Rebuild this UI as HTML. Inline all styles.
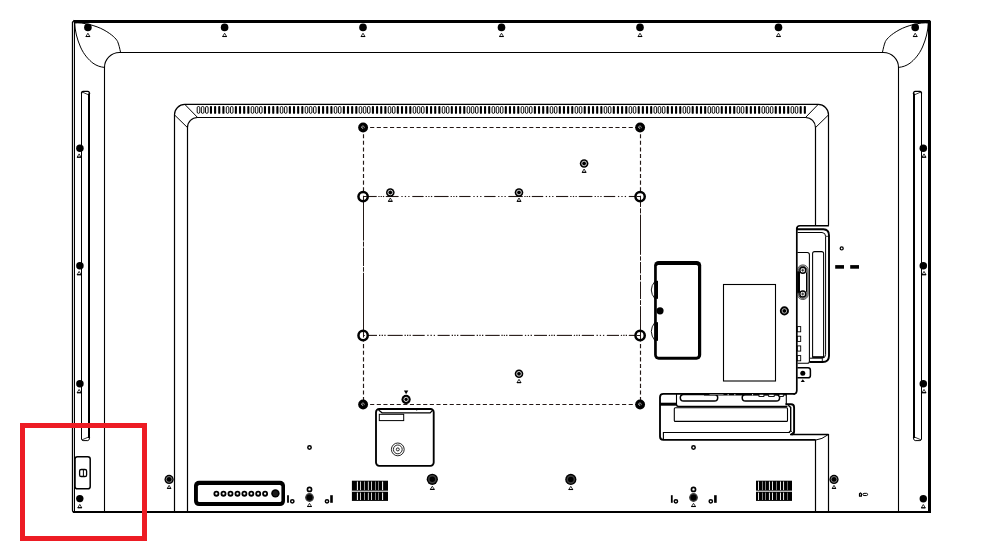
<!DOCTYPE html>
<html><head><meta charset="utf-8"><title>Rear panel</title>
<style>
html,body{margin:0;padding:0;background:#fff;font-family:"Liberation Sans",sans-serif;}
svg{display:block}
</style></head>
<body>
<svg width="990" height="557" viewBox="0 0 990 557" shape-rendering="geometricPrecision">
<rect width="990" height="557" fill="#fff"/>
<line x1="73.8" y1="21.5" x2="931" y2="21.5" stroke="#000" stroke-width="3"/>
<line x1="929.5" y1="20" x2="929.5" y2="512.6" stroke="#000" stroke-width="3"/>
<path d="M74.4,20.2 L72.5,22.2 V510.4 Q72.5,512 74.2,512" fill="none" stroke="#000" stroke-width="1.3"/>
<line x1="74.5" y1="22.5" x2="74.5" y2="511" stroke="#000" stroke-width="1"/>
<line x1="73" y1="512" x2="931" y2="512" stroke="#000" stroke-width="2"/>
<path d="M931.2,19.8 V21.4 L929.6,19.8 Z" fill="#fff"/>
<path d="M104.5,511 V67.5 A15,15 0 0 1 119.5,52.5 H883.5 A15,15 0 0 1 898.5,67.5 V511" fill="none" stroke="#000" stroke-width="1.1"/>
<path d="M74.7,23 C82,22 96,25.5 104,30 C112,34.5 116,38.5 117.6,41.5 C119,45 119.6,48 120.6,52.5" fill="none" stroke="#000" stroke-width="1"/>
<path d="M74.7,23 C75,31 77,39 80.5,47 C84,55 89,60 93,63.2 C97,66 100.5,67 104.5,67.4" fill="none" stroke="#000" stroke-width="1"/>
<g transform="translate(1003,0) scale(-1,1)"><path d="M74.7,23 C82,22 96,25.5 104,30 C112,34.5 116,38.5 117.6,41.5 C119,45 119.6,48 120.6,52.5" fill="none" stroke="#000" stroke-width="1"/><path d="M74.7,23 C75,31 77,39 80.5,47 C84,55 89,60 93,63.2 C97,66 100.5,67 104.5,67.4" fill="none" stroke="#000" stroke-width="1"/></g>
<line x1="81.5" y1="93" x2="81.5" y2="439" stroke="#000" stroke-width="1"/><line x1="89.0" y1="93.5" x2="89.0" y2="438" stroke="#000" stroke-width="2"/><path d="M81.5,93.5 Q81.5,91.3 83.1,91.3 H87.8 Q89.6,91.5 89.6,94" fill="none" stroke="#000" stroke-width="1.3"/><line x1="82.1" y1="92" x2="89.0" y2="95" stroke="#000" stroke-width="0.8"/><path d="M81.5,438.5 Q81.5,440.6 83.1,440.6 H87.8 Q89.6,440.4 89.6,437.5" fill="none" stroke="#000" stroke-width="1"/><line x1="82.1" y1="439.8" x2="89.0" y2="436.8" stroke="#000" stroke-width="0.8"/>
<line x1="921.5" y1="93" x2="921.5" y2="439" stroke="#000" stroke-width="1"/><line x1="914.0" y1="93.5" x2="914.0" y2="438" stroke="#000" stroke-width="2"/><path d="M921.5,93.5 Q921.5,91.3 919.9,91.3 H915.2 Q913.4,91.5 913.4,94" fill="none" stroke="#000" stroke-width="1.3"/><line x1="920.9" y1="92" x2="914.0" y2="95" stroke="#000" stroke-width="0.8"/><path d="M921.5,438.5 Q921.5,440.6 919.9,440.6 H915.2 Q913.4,440.4 913.4,437.5" fill="none" stroke="#000" stroke-width="1"/><line x1="920.9" y1="439.8" x2="914.0" y2="436.8" stroke="#000" stroke-width="0.8"/>
<path d="M174.5,511 V114.8 A10.3,10.3 0 0 1 184.8,104.45 H818.2 A10.3,10.3 0 0 1 828.5,114.8 V225.5" fill="none" stroke="#000" stroke-width="1.2"/>
<path d="M187.5,511 V127.5 A10,10 0 0 1 197.5,117.5 H805.5 A10,10 0 0 1 815.5,127.5 V225.5" fill="none" stroke="#000" stroke-width="1.2"/>
<path d="M185,104.6 L197.5,117.4 M174.6,115 L187.5,127.6 M818,104.6 L805.6,117.4 M828.4,115 L815.5,127.6" fill="none" stroke="#000" stroke-width="1"/>
<g><rect x="197.20" y="106.5" width="2.6" height="6.85" rx="1.3" fill="#fff" stroke="#000" stroke-width="0.95"/><rect x="201.35" y="106.5" width="2.6" height="6.85" rx="1.3" fill="#fff" stroke="#000" stroke-width="0.95"/><rect x="205.51" y="106.5" width="2.6" height="6.85" rx="1.3" fill="#fff" stroke="#000" stroke-width="0.95"/><rect x="209.91" y="106" width="2.1" height="7.8" rx="0.9" fill="#000"/><rect x="214.06" y="106" width="2.1" height="7.8" rx="0.9" fill="#000"/><rect x="218.21" y="106" width="2.1" height="7.8" rx="0.9" fill="#000"/><rect x="222.37" y="106" width="2.1" height="7.8" rx="0.9" fill="#000"/><rect x="226.27" y="106.5" width="2.6" height="6.85" rx="1.3" fill="#fff" stroke="#000" stroke-width="0.95"/><rect x="230.42" y="106.5" width="2.6" height="6.85" rx="1.3" fill="#fff" stroke="#000" stroke-width="0.95"/><rect x="234.83" y="106" width="2.1" height="7.8" rx="0.9" fill="#000"/><rect x="238.98" y="106" width="2.1" height="7.8" rx="0.9" fill="#000"/><rect x="243.13" y="106" width="2.1" height="7.8" rx="0.9" fill="#000"/><rect x="247.29" y="106" width="2.1" height="7.8" rx="0.9" fill="#000"/><rect x="251.19" y="106.5" width="2.6" height="6.85" rx="1.3" fill="#fff" stroke="#000" stroke-width="0.95"/><rect x="255.34" y="106.5" width="2.6" height="6.85" rx="1.3" fill="#fff" stroke="#000" stroke-width="0.95"/><rect x="259.50" y="106.5" width="2.6" height="6.85" rx="1.3" fill="#fff" stroke="#000" stroke-width="0.95"/><rect x="263.90" y="106" width="2.1" height="7.8" rx="0.9" fill="#000"/><rect x="268.05" y="106" width="2.1" height="7.8" rx="0.9" fill="#000"/><rect x="272.20" y="106" width="2.1" height="7.8" rx="0.9" fill="#000"/><rect x="276.36" y="106" width="2.1" height="7.8" rx="0.9" fill="#000"/><rect x="280.26" y="106.5" width="2.6" height="6.85" rx="1.3" fill="#fff" stroke="#000" stroke-width="0.95"/><rect x="284.41" y="106.5" width="2.6" height="6.85" rx="1.3" fill="#fff" stroke="#000" stroke-width="0.95"/><rect x="288.82" y="106" width="2.1" height="7.8" rx="0.9" fill="#000"/><rect x="292.97" y="106" width="2.1" height="7.8" rx="0.9" fill="#000"/><rect x="297.12" y="106" width="2.1" height="7.8" rx="0.9" fill="#000"/><rect x="301.27" y="106" width="2.1" height="7.8" rx="0.9" fill="#000"/><rect x="305.18" y="106.5" width="2.6" height="6.85" rx="1.3" fill="#fff" stroke="#000" stroke-width="0.95"/><rect x="309.33" y="106.5" width="2.6" height="6.85" rx="1.3" fill="#fff" stroke="#000" stroke-width="0.95"/><rect x="313.48" y="106.5" width="2.6" height="6.85" rx="1.3" fill="#fff" stroke="#000" stroke-width="0.95"/><rect x="317.89" y="106" width="2.1" height="7.8" rx="0.9" fill="#000"/><rect x="322.04" y="106" width="2.1" height="7.8" rx="0.9" fill="#000"/><rect x="326.19" y="106" width="2.1" height="7.8" rx="0.9" fill="#000"/><rect x="330.35" y="106" width="2.1" height="7.8" rx="0.9" fill="#000"/><rect x="334.25" y="106.5" width="2.6" height="6.85" rx="1.3" fill="#fff" stroke="#000" stroke-width="0.95"/><rect x="338.40" y="106.5" width="2.6" height="6.85" rx="1.3" fill="#fff" stroke="#000" stroke-width="0.95"/><rect x="342.81" y="106" width="2.1" height="7.8" rx="0.9" fill="#000"/><rect x="346.96" y="106" width="2.1" height="7.8" rx="0.9" fill="#000"/><rect x="351.11" y="106" width="2.1" height="7.8" rx="0.9" fill="#000"/><rect x="355.26" y="106" width="2.1" height="7.8" rx="0.9" fill="#000"/><rect x="359.17" y="106.5" width="2.6" height="6.85" rx="1.3" fill="#fff" stroke="#000" stroke-width="0.95"/><rect x="363.32" y="106.5" width="2.6" height="6.85" rx="1.3" fill="#fff" stroke="#000" stroke-width="0.95"/><rect x="367.47" y="106.5" width="2.6" height="6.85" rx="1.3" fill="#fff" stroke="#000" stroke-width="0.95"/><rect x="371.88" y="106" width="2.1" height="7.8" rx="0.9" fill="#000"/><rect x="376.03" y="106" width="2.1" height="7.8" rx="0.9" fill="#000"/><rect x="380.18" y="106" width="2.1" height="7.8" rx="0.9" fill="#000"/><rect x="384.33" y="106" width="2.1" height="7.8" rx="0.9" fill="#000"/><rect x="388.24" y="106.5" width="2.6" height="6.85" rx="1.3" fill="#fff" stroke="#000" stroke-width="0.95"/><rect x="392.39" y="106.5" width="2.6" height="6.85" rx="1.3" fill="#fff" stroke="#000" stroke-width="0.95"/><rect x="396.79" y="106" width="2.1" height="7.8" rx="0.9" fill="#000"/><rect x="400.95" y="106" width="2.1" height="7.8" rx="0.9" fill="#000"/><rect x="405.10" y="106" width="2.1" height="7.8" rx="0.9" fill="#000"/><rect x="409.25" y="106" width="2.1" height="7.8" rx="0.9" fill="#000"/><rect x="413.16" y="106.5" width="2.6" height="6.85" rx="1.3" fill="#fff" stroke="#000" stroke-width="0.95"/><rect x="417.31" y="106.5" width="2.6" height="6.85" rx="1.3" fill="#fff" stroke="#000" stroke-width="0.95"/><rect x="421.46" y="106.5" width="2.6" height="6.85" rx="1.3" fill="#fff" stroke="#000" stroke-width="0.95"/><rect x="425.86" y="106" width="2.1" height="7.8" rx="0.9" fill="#000"/><rect x="430.02" y="106" width="2.1" height="7.8" rx="0.9" fill="#000"/><rect x="434.17" y="106" width="2.1" height="7.8" rx="0.9" fill="#000"/><rect x="438.32" y="106" width="2.1" height="7.8" rx="0.9" fill="#000"/><rect x="442.23" y="106.5" width="2.6" height="6.85" rx="1.3" fill="#fff" stroke="#000" stroke-width="0.95"/><rect x="446.38" y="106.5" width="2.6" height="6.85" rx="1.3" fill="#fff" stroke="#000" stroke-width="0.95"/><rect x="450.78" y="106" width="2.1" height="7.8" rx="0.9" fill="#000"/><rect x="454.94" y="106" width="2.1" height="7.8" rx="0.9" fill="#000"/><rect x="459.09" y="106" width="2.1" height="7.8" rx="0.9" fill="#000"/><rect x="463.24" y="106" width="2.1" height="7.8" rx="0.9" fill="#000"/><rect x="467.14" y="106.5" width="2.6" height="6.85" rx="1.3" fill="#fff" stroke="#000" stroke-width="0.95"/><rect x="471.30" y="106.5" width="2.6" height="6.85" rx="1.3" fill="#fff" stroke="#000" stroke-width="0.95"/><rect x="475.45" y="106.5" width="2.6" height="6.85" rx="1.3" fill="#fff" stroke="#000" stroke-width="0.95"/><rect x="479.85" y="106" width="2.1" height="7.8" rx="0.9" fill="#000"/><rect x="484.01" y="106" width="2.1" height="7.8" rx="0.9" fill="#000"/><rect x="488.16" y="106" width="2.1" height="7.8" rx="0.9" fill="#000"/><rect x="492.06" y="106.5" width="2.6" height="6.85" rx="1.3" fill="#fff" stroke="#000" stroke-width="0.95"/><rect x="496.22" y="106.5" width="2.6" height="6.85" rx="1.3" fill="#fff" stroke="#000" stroke-width="0.95"/><rect x="500.37" y="106.5" width="2.6" height="6.85" rx="1.3" fill="#fff" stroke="#000" stroke-width="0.95"/><rect x="504.77" y="106" width="2.1" height="7.8" rx="0.9" fill="#000"/><rect x="508.92" y="106" width="2.1" height="7.8" rx="0.9" fill="#000"/><rect x="513.08" y="106" width="2.1" height="7.8" rx="0.9" fill="#000"/><rect x="517.23" y="106" width="2.1" height="7.8" rx="0.9" fill="#000"/><rect x="521.13" y="106.5" width="2.6" height="6.85" rx="1.3" fill="#fff" stroke="#000" stroke-width="0.95"/><rect x="525.29" y="106.5" width="2.6" height="6.85" rx="1.3" fill="#fff" stroke="#000" stroke-width="0.95"/><rect x="529.44" y="106.5" width="2.6" height="6.85" rx="1.3" fill="#fff" stroke="#000" stroke-width="0.95"/><rect x="533.84" y="106" width="2.1" height="7.8" rx="0.9" fill="#000"/><rect x="538.00" y="106" width="2.1" height="7.8" rx="0.9" fill="#000"/><rect x="542.15" y="106" width="2.1" height="7.8" rx="0.9" fill="#000"/><rect x="546.30" y="106" width="2.1" height="7.8" rx="0.9" fill="#000"/><rect x="550.20" y="106.5" width="2.6" height="6.85" rx="1.3" fill="#fff" stroke="#000" stroke-width="0.95"/><rect x="554.36" y="106.5" width="2.6" height="6.85" rx="1.3" fill="#fff" stroke="#000" stroke-width="0.95"/><rect x="558.76" y="106" width="2.1" height="7.8" rx="0.9" fill="#000"/><rect x="562.91" y="106" width="2.1" height="7.8" rx="0.9" fill="#000"/><rect x="567.07" y="106" width="2.1" height="7.8" rx="0.9" fill="#000"/><rect x="571.22" y="106" width="2.1" height="7.8" rx="0.9" fill="#000"/><rect x="575.12" y="106.5" width="2.6" height="6.85" rx="1.3" fill="#fff" stroke="#000" stroke-width="0.95"/><rect x="579.28" y="106.5" width="2.6" height="6.85" rx="1.3" fill="#fff" stroke="#000" stroke-width="0.95"/><rect x="583.68" y="106" width="2.1" height="7.8" rx="0.9" fill="#000"/><rect x="587.83" y="106" width="2.1" height="7.8" rx="0.9" fill="#000"/><rect x="591.99" y="106" width="2.1" height="7.8" rx="0.9" fill="#000"/><rect x="596.14" y="106" width="2.1" height="7.8" rx="0.9" fill="#000"/><rect x="600.29" y="106" width="2.1" height="7.8" rx="0.9" fill="#000"/><rect x="604.19" y="106.5" width="2.6" height="6.85" rx="1.3" fill="#fff" stroke="#000" stroke-width="0.95"/><rect x="608.35" y="106.5" width="2.6" height="6.85" rx="1.3" fill="#fff" stroke="#000" stroke-width="0.95"/><rect x="612.75" y="106" width="2.1" height="7.8" rx="0.9" fill="#000"/><rect x="616.90" y="106" width="2.1" height="7.8" rx="0.9" fill="#000"/><rect x="621.06" y="106" width="2.1" height="7.8" rx="0.9" fill="#000"/><rect x="625.21" y="106" width="2.1" height="7.8" rx="0.9" fill="#000"/><rect x="629.11" y="106.5" width="2.6" height="6.85" rx="1.3" fill="#fff" stroke="#000" stroke-width="0.95"/><rect x="633.26" y="106.5" width="2.6" height="6.85" rx="1.3" fill="#fff" stroke="#000" stroke-width="0.95"/><rect x="637.67" y="106" width="2.1" height="7.8" rx="0.9" fill="#000"/><rect x="641.82" y="106" width="2.1" height="7.8" rx="0.9" fill="#000"/><rect x="645.97" y="106" width="2.1" height="7.8" rx="0.9" fill="#000"/><rect x="650.13" y="106" width="2.1" height="7.8" rx="0.9" fill="#000"/><rect x="654.03" y="106.5" width="2.6" height="6.85" rx="1.3" fill="#fff" stroke="#000" stroke-width="0.95"/><rect x="658.18" y="106.5" width="2.6" height="6.85" rx="1.3" fill="#fff" stroke="#000" stroke-width="0.95"/><rect x="662.34" y="106.5" width="2.6" height="6.85" rx="1.3" fill="#fff" stroke="#000" stroke-width="0.95"/><rect x="666.74" y="106" width="2.1" height="7.8" rx="0.9" fill="#000"/><rect x="670.89" y="106" width="2.1" height="7.8" rx="0.9" fill="#000"/><rect x="675.05" y="106" width="2.1" height="7.8" rx="0.9" fill="#000"/><rect x="679.20" y="106" width="2.1" height="7.8" rx="0.9" fill="#000"/><rect x="683.10" y="106.5" width="2.6" height="6.85" rx="1.3" fill="#fff" stroke="#000" stroke-width="0.95"/><rect x="687.25" y="106.5" width="2.6" height="6.85" rx="1.3" fill="#fff" stroke="#000" stroke-width="0.95"/><rect x="691.66" y="106" width="2.1" height="7.8" rx="0.9" fill="#000"/><rect x="695.81" y="106" width="2.1" height="7.8" rx="0.9" fill="#000"/><rect x="699.96" y="106" width="2.1" height="7.8" rx="0.9" fill="#000"/><rect x="704.12" y="106" width="2.1" height="7.8" rx="0.9" fill="#000"/><rect x="708.02" y="106.5" width="2.6" height="6.85" rx="1.3" fill="#fff" stroke="#000" stroke-width="0.95"/><rect x="712.17" y="106.5" width="2.6" height="6.85" rx="1.3" fill="#fff" stroke="#000" stroke-width="0.95"/><rect x="716.33" y="106.5" width="2.6" height="6.85" rx="1.3" fill="#fff" stroke="#000" stroke-width="0.95"/><rect x="720.73" y="106" width="2.1" height="7.8" rx="0.9" fill="#000"/><rect x="724.88" y="106" width="2.1" height="7.8" rx="0.9" fill="#000"/><rect x="729.03" y="106" width="2.1" height="7.8" rx="0.9" fill="#000"/><rect x="733.19" y="106" width="2.1" height="7.8" rx="0.9" fill="#000"/><rect x="737.09" y="106.5" width="2.6" height="6.85" rx="1.3" fill="#fff" stroke="#000" stroke-width="0.95"/><rect x="741.24" y="106.5" width="2.6" height="6.85" rx="1.3" fill="#fff" stroke="#000" stroke-width="0.95"/><rect x="745.65" y="106" width="2.1" height="7.8" rx="0.9" fill="#000"/><rect x="749.80" y="106" width="2.1" height="7.8" rx="0.9" fill="#000"/><rect x="753.95" y="106" width="2.1" height="7.8" rx="0.9" fill="#000"/><rect x="758.11" y="106" width="2.1" height="7.8" rx="0.9" fill="#000"/><rect x="762.01" y="106.5" width="2.6" height="6.85" rx="1.3" fill="#fff" stroke="#000" stroke-width="0.95"/><rect x="766.16" y="106.5" width="2.6" height="6.85" rx="1.3" fill="#fff" stroke="#000" stroke-width="0.95"/><rect x="770.31" y="106.5" width="2.6" height="6.85" rx="1.3" fill="#fff" stroke="#000" stroke-width="0.95"/><rect x="774.72" y="106" width="2.1" height="7.8" rx="0.9" fill="#000"/><rect x="778.87" y="106" width="2.1" height="7.8" rx="0.9" fill="#000"/><rect x="783.02" y="106" width="2.1" height="7.8" rx="0.9" fill="#000"/><rect x="787.18" y="106" width="2.1" height="7.8" rx="0.9" fill="#000"/><rect x="791.08" y="106.5" width="2.6" height="6.85" rx="1.3" fill="#fff" stroke="#000" stroke-width="0.95"/><rect x="795.23" y="106.5" width="2.6" height="6.85" rx="1.3" fill="#fff" stroke="#000" stroke-width="0.95"/><rect x="799.63" y="106" width="2.1" height="7.8" rx="0.9" fill="#000"/><rect x="803.79" y="106" width="2.1" height="7.8" rx="0.9" fill="#000"/></g>
<g fill="none" stroke="#231815" stroke-width="1.15">
<line x1="363.5" y1="127.5" x2="640.5" y2="127.5" stroke-dasharray="4.1 2.53"/>
<line x1="363.5" y1="404.5" x2="640.5" y2="404.5" stroke-dasharray="4.1 2.53"/>
<line x1="363.5" y1="127.5" x2="363.5" y2="191.5" stroke-dasharray="4.1 2.53"/>
<line x1="640.5" y1="127.5" x2="640.5" y2="191.5" stroke-dasharray="4.1 2.53"/>
<line x1="363.5" y1="340.4" x2="363.5" y2="404.5" stroke-dasharray="4.1 2.53" stroke-dashoffset="3"/>
<line x1="640.5" y1="340.4" x2="640.5" y2="404.5" stroke-dasharray="4.1 2.53" stroke-dashoffset="3"/>
<line x1="363.5" y1="196.5" x2="376.7" y2="196.5" stroke-width="1.1"/><line x1="378.33" y1="196.5" x2="379.62" y2="196.5" stroke-width="1.1"/><line x1="380.60" y1="196.5" x2="381.90" y2="196.5" stroke-width="1.1"/><line x1="382.88" y1="196.5" x2="384.17" y2="196.5" stroke-width="1.1"/><line x1="385.8" y1="196.5" x2="398.6" y2="196.5" stroke-width="1.1"/><line x1="401.38" y1="196.5" x2="402.68" y2="196.5" stroke-width="1.1"/><line x1="404.80" y1="196.5" x2="406.10" y2="196.5" stroke-width="1.1"/><line x1="408.23" y1="196.5" x2="409.52" y2="196.5" stroke-width="1.1"/><line x1="412.3" y1="196.5" x2="423.6" y2="196.5" stroke-width="1.1"/><line x1="425.60" y1="196.5" x2="426.90" y2="196.5" stroke-width="1.1"/><line x1="428.25" y1="196.5" x2="429.55" y2="196.5" stroke-width="1.1"/><line x1="430.90" y1="196.5" x2="432.20" y2="196.5" stroke-width="1.1"/><line x1="434.2" y1="196.5" x2="448.6" y2="196.5" stroke-width="1.1"/><line x1="450.60" y1="196.5" x2="451.90" y2="196.5" stroke-width="1.1"/><line x1="453.25" y1="196.5" x2="454.55" y2="196.5" stroke-width="1.1"/><line x1="455.90" y1="196.5" x2="457.20" y2="196.5" stroke-width="1.1"/><line x1="459.2" y1="196.5" x2="470.6" y2="196.5" stroke-width="1.1"/><line x1="473.35" y1="196.5" x2="474.65" y2="196.5" stroke-width="1.1"/><line x1="476.75" y1="196.5" x2="478.05" y2="196.5" stroke-width="1.1"/><line x1="480.15" y1="196.5" x2="481.45" y2="196.5" stroke-width="1.1"/><line x1="484.2" y1="196.5" x2="495.6" y2="196.5" stroke-width="1.1"/><line x1="498.13" y1="196.5" x2="499.43" y2="196.5" stroke-width="1.1"/><line x1="501.30" y1="196.5" x2="502.60" y2="196.5" stroke-width="1.1"/><line x1="504.48" y1="196.5" x2="505.77" y2="196.5" stroke-width="1.1"/><line x1="508.3" y1="196.5" x2="522.7" y2="196.5" stroke-width="1.1"/><line x1="524.33" y1="196.5" x2="525.62" y2="196.5" stroke-width="1.1"/><line x1="526.60" y1="196.5" x2="527.90" y2="196.5" stroke-width="1.1"/><line x1="528.88" y1="196.5" x2="530.17" y2="196.5" stroke-width="1.1"/><line x1="531.8" y1="196.5" x2="543.2" y2="196.5" stroke-width="1.1"/><line x1="545.75" y1="196.5" x2="547.05" y2="196.5" stroke-width="1.1"/><line x1="548.95" y1="196.5" x2="550.25" y2="196.5" stroke-width="1.1"/><line x1="552.15" y1="196.5" x2="553.45" y2="196.5" stroke-width="1.1"/><line x1="556" y1="196.5" x2="568.2" y2="196.5" stroke-width="1.1"/><line x1="570.20" y1="196.5" x2="571.50" y2="196.5" stroke-width="1.1"/><line x1="572.85" y1="196.5" x2="574.15" y2="196.5" stroke-width="1.1"/><line x1="575.50" y1="196.5" x2="576.80" y2="196.5" stroke-width="1.1"/><line x1="578.8" y1="196.5" x2="592.4" y2="196.5" stroke-width="1.1"/><line x1="594.60" y1="196.5" x2="595.90" y2="196.5" stroke-width="1.1"/><line x1="597.45" y1="196.5" x2="598.75" y2="196.5" stroke-width="1.1"/><line x1="600.30" y1="196.5" x2="601.60" y2="196.5" stroke-width="1.1"/><line x1="603.8" y1="196.5" x2="615.2" y2="196.5" stroke-width="1.1"/><line x1="617.95" y1="196.5" x2="619.25" y2="196.5" stroke-width="1.1"/><line x1="621.35" y1="196.5" x2="622.65" y2="196.5" stroke-width="1.1"/><line x1="624.75" y1="196.5" x2="626.05" y2="196.5" stroke-width="1.1"/><line x1="628.8" y1="196.5" x2="640.5" y2="196.5" stroke-width="1.1"/>
<line x1="363.5" y1="335.4" x2="377" y2="335.4" stroke-width="1.1"/><line x1="379.00" y1="335.4" x2="380.30" y2="335.4" stroke-width="1.1"/><line x1="381.65" y1="335.4" x2="382.95" y2="335.4" stroke-width="1.1"/><line x1="384.30" y1="335.4" x2="385.60" y2="335.4" stroke-width="1.1"/><line x1="387.6" y1="335.4" x2="402.7" y2="335.4" stroke-width="1.1"/><line x1="404.53" y1="335.4" x2="405.82" y2="335.4" stroke-width="1.1"/><line x1="407.00" y1="335.4" x2="408.30" y2="335.4" stroke-width="1.1"/><line x1="409.48" y1="335.4" x2="410.77" y2="335.4" stroke-width="1.1"/><line x1="412.6" y1="335.4" x2="424.7" y2="335.4" stroke-width="1.1"/><line x1="427.28" y1="335.4" x2="428.57" y2="335.4" stroke-width="1.1"/><line x1="430.50" y1="335.4" x2="431.80" y2="335.4" stroke-width="1.1"/><line x1="433.73" y1="335.4" x2="435.02" y2="335.4" stroke-width="1.1"/><line x1="437.6" y1="335.4" x2="449.7" y2="335.4" stroke-width="1.1"/><line x1="451.70" y1="335.4" x2="453.00" y2="335.4" stroke-width="1.1"/><line x1="454.35" y1="335.4" x2="455.65" y2="335.4" stroke-width="1.1"/><line x1="457.00" y1="335.4" x2="458.30" y2="335.4" stroke-width="1.1"/><line x1="460.3" y1="335.4" x2="474.7" y2="335.4" stroke-width="1.1"/><line x1="476.70" y1="335.4" x2="478.00" y2="335.4" stroke-width="1.1"/><line x1="479.35" y1="335.4" x2="480.65" y2="335.4" stroke-width="1.1"/><line x1="482.00" y1="335.4" x2="483.30" y2="335.4" stroke-width="1.1"/><line x1="485.3" y1="335.4" x2="499.7" y2="335.4" stroke-width="1.1"/><line x1="501.40" y1="335.4" x2="502.70" y2="335.4" stroke-width="1.1"/><line x1="503.75" y1="335.4" x2="505.05" y2="335.4" stroke-width="1.1"/><line x1="506.10" y1="335.4" x2="507.40" y2="335.4" stroke-width="1.1"/><line x1="509.1" y1="335.4" x2="522.7" y2="335.4" stroke-width="1.1"/><line x1="524.90" y1="335.4" x2="526.20" y2="335.4" stroke-width="1.1"/><line x1="527.75" y1="335.4" x2="529.05" y2="335.4" stroke-width="1.1"/><line x1="530.60" y1="335.4" x2="531.90" y2="335.4" stroke-width="1.1"/><line x1="534.1" y1="335.4" x2="547" y2="335.4" stroke-width="1.1"/><line x1="548.80" y1="335.4" x2="550.10" y2="335.4" stroke-width="1.1"/><line x1="551.25" y1="335.4" x2="552.55" y2="335.4" stroke-width="1.1"/><line x1="553.70" y1="335.4" x2="555.00" y2="335.4" stroke-width="1.1"/><line x1="556.8" y1="335.4" x2="572" y2="335.4" stroke-width="1.1"/><line x1="573.80" y1="335.4" x2="575.10" y2="335.4" stroke-width="1.1"/><line x1="576.25" y1="335.4" x2="577.55" y2="335.4" stroke-width="1.1"/><line x1="578.70" y1="335.4" x2="580.00" y2="335.4" stroke-width="1.1"/><line x1="581.8" y1="335.4" x2="594" y2="335.4" stroke-width="1.1"/><line x1="596.55" y1="335.4" x2="597.85" y2="335.4" stroke-width="1.1"/><line x1="599.75" y1="335.4" x2="601.05" y2="335.4" stroke-width="1.1"/><line x1="602.95" y1="335.4" x2="604.25" y2="335.4" stroke-width="1.1"/><line x1="606.8" y1="335.4" x2="619" y2="335.4" stroke-width="1.1"/><line x1="620.80" y1="335.4" x2="622.10" y2="335.4" stroke-width="1.1"/><line x1="623.25" y1="335.4" x2="624.55" y2="335.4" stroke-width="1.1"/><line x1="625.70" y1="335.4" x2="627.00" y2="335.4" stroke-width="1.1"/><line x1="628.8" y1="335.4" x2="640.5" y2="335.4" stroke-width="1.1"/>
<line x1="363.5" y1="196.5" x2="363.5" y2="240.6" stroke-width="1.05"/>
<line x1="363.5" y1="241.6" x2="363.5" y2="246.6" stroke-width="1.05"/>
<line x1="363.5" y1="247.6" x2="363.5" y2="266.1" stroke-width="1.05"/>
<line x1="363.5" y1="267.1" x2="363.5" y2="271.7" stroke-width="1.05"/>
<line x1="363.5" y1="272.8" x2="363.5" y2="335.4" stroke-width="1.05"/>
<line x1="640.5" y1="196.5" x2="640.5" y2="207" stroke-width="1.05"/>
<line x1="640.5" y1="208.3" x2="640.5" y2="213.4" stroke-width="1.05"/>
<line x1="640.5" y1="214.6" x2="640.5" y2="254.8" stroke-width="1.05"/>
<line x1="640.5" y1="256.3" x2="640.5" y2="260.6" stroke-width="1.05"/>
<line x1="640.5" y1="262" x2="640.5" y2="273.4" stroke-width="1.05"/>
<line x1="640.5" y1="274.8" x2="640.5" y2="280.2" stroke-width="1.05"/>
<line x1="640.5" y1="281.6" x2="640.5" y2="299" stroke-width="1.05"/>
<line x1="640.5" y1="300.2" x2="640.5" y2="305" stroke-width="1.05"/>
<line x1="640.5" y1="306.2" x2="640.5" y2="335.4" stroke-width="1.05"/>
</g>
<circle cx="363.1" cy="127.5" r="4.95" fill="#000"/>
<path d="M361.6,128.0 a1.4,1.4 0 1 1 2.3,0.3 M362.5,127.4 v1.5" fill="none" stroke="#c8c8c8" stroke-width="0.7"/>
<circle cx="640.1" cy="127.5" r="4.95" fill="#000"/>
<path d="M638.6,128.0 a1.4,1.4 0 1 1 2.3,0.3 M639.5,127.4 v1.5" fill="none" stroke="#c8c8c8" stroke-width="0.7"/>
<circle cx="363.1" cy="404.5" r="4.95" fill="#000"/>
<path d="M361.6,405.0 a1.4,1.4 0 1 1 2.3,0.3 M362.5,404.4 v1.5" fill="none" stroke="#c8c8c8" stroke-width="0.7"/>
<circle cx="640.1" cy="404.5" r="4.95" fill="#000"/>
<path d="M638.6,405.0 a1.4,1.4 0 1 1 2.3,0.3 M639.5,404.4 v1.5" fill="none" stroke="#c8c8c8" stroke-width="0.7"/>
<circle cx="363.1" cy="196.6" r="4.65" fill="#fff" stroke="#000" stroke-width="2.5"/>
<circle cx="640.1" cy="196.6" r="4.65" fill="#fff" stroke="#000" stroke-width="2.5"/>
<circle cx="363.1" cy="335.5" r="4.65" fill="#fff" stroke="#000" stroke-width="2.5"/>
<circle cx="640.1" cy="335.5" r="4.65" fill="#fff" stroke="#000" stroke-width="2.5"/>
<g stroke="#231815" stroke-width="1.05" fill="none">
<path d="M363.5,195.7 V200.1 M363.5,196.5 H366.9"/>
<path d="M640.5,195.7 V200.1 M640.5,196.5 H636.7"/>
<path d="M363.5,331.9 V337.59999999999997 M363.5,335.4 H364.8"/>
<path d="M640.5,331.9 V338.9 M640.5,335.4 H636.7"/>
</g>
<circle cx="390.3" cy="192.5" r="4.3" fill="#000"/><circle cx="390.3" cy="192.5" r="2.35" fill="none" stroke="#e8e8e8" stroke-width="0.9"/><path d="M390.3,198.0 L392.25,201.3 H388.35 Z" fill="#fff" stroke="#000" stroke-width="0.8" stroke-linejoin="miter"/><line x1="388.15000000000003" y1="201.3" x2="392.45" y2="201.3" stroke="#000" stroke-width="1.1"/>
<circle cx="519" cy="192.5" r="4.3" fill="#000"/><circle cx="519" cy="192.5" r="2.35" fill="none" stroke="#e8e8e8" stroke-width="0.9"/><path d="M519,198.0 L520.95,201.3 H517.05 Z" fill="#fff" stroke="#000" stroke-width="0.8" stroke-linejoin="miter"/><line x1="516.8499999999999" y1="201.3" x2="521.1500000000001" y2="201.3" stroke="#000" stroke-width="1.1"/>
<circle cx="584.1" cy="163.5" r="4.3" fill="#000"/><circle cx="584.1" cy="163.5" r="2.35" fill="none" stroke="#e8e8e8" stroke-width="0.9"/><path d="M584.1,169.0 L586.0500000000001,172.3 H582.15 Z" fill="#fff" stroke="#000" stroke-width="0.8" stroke-linejoin="miter"/><line x1="581.9499999999999" y1="172.3" x2="586.2500000000001" y2="172.3" stroke="#000" stroke-width="1.1"/>
<circle cx="519" cy="373.8" r="4.3" fill="#000"/><circle cx="519" cy="373.8" r="2.35" fill="none" stroke="#e8e8e8" stroke-width="0.9"/><path d="M519,379.3 L520.95,382.6 H517.05 Z" fill="#fff" stroke="#000" stroke-width="0.8" stroke-linejoin="miter"/><line x1="516.8499999999999" y1="382.6" x2="521.1500000000001" y2="382.6" stroke="#000" stroke-width="1.1"/>
<circle cx="406.1" cy="399.4" r="4.6" fill="#000"/><circle cx="406.1" cy="399.4" r="2.15" fill="none" stroke="#e8e8e8" stroke-width="0.95"/>
<path d="M403.9,390.6 H408.3 L406.1,394.2 Z" fill="#000"/>
<rect x="376" y="409" width="57.7" height="56.8" rx="3.2" fill="#fff" stroke="#000" stroke-width="1.85"/>
<path d="M378.6,410 L382,412.8 H430.2 L432.8,410" fill="none" stroke="#000" stroke-width="1.15"/>
<path d="M415.8,409.6 h2 l-1,1.2 Z" fill="#000"/>
<rect x="379.3" y="414.3" width="24.4" height="6.3" fill="none" stroke="#000" stroke-width="1"/>
<circle cx="397.8" cy="449.4" r="6.4" fill="none" stroke="#000" stroke-width="0.85"/><circle cx="397.8" cy="449.4" r="4.4" fill="none" stroke="#000" stroke-width="0.85"/><circle cx="397.8" cy="449.4" r="1.5" fill="none" stroke="#000" stroke-width="0.85"/>
<rect x="654.1" y="260.9" width="47.1" height="98.8" rx="4.6" fill="#000"/><rect x="656.8" y="264.9" width="41.2" height="91.8" rx="1.6" fill="#fff"/>
<path d="M655,281.2 Q647.6,290 655,298.8 M655,322.2 Q647.6,331.4 655,340.8" fill="none" stroke="#000" stroke-width="0.9"/>
<rect x="655" y="280.8" width="3" height="18" fill="#000"/><rect x="655" y="322.2" width="3" height="18.6" fill="#000"/>
<circle cx="660" cy="310.8" r="3.6" fill="#000"/>
<rect x="723.5" y="284.5" width="52" height="96.5" fill="none" stroke="#000" stroke-width="1.1"/>
<circle cx="784.4" cy="310.9" r="4.55" fill="#000"/><circle cx="784.4" cy="310.9" r="2.3" fill="none" stroke="#e8e8e8" stroke-width="0.75"/>
<path d="M828.9,225.8 H800 Q796.8,225.8 796.8,229" fill="none" stroke="#000" stroke-width="1.6"/>
<path d="M796.8,227.5 V390.4 Q796.8,393.8 793.4,393.8" fill="none" stroke="#000" stroke-width="1.7"/>
<path d="M795,393.8 H663.4 Q660,393.8 660,397.2 V436.4 Q660,439.8 663.4,439.8 H815.8" fill="none" stroke="#000" stroke-width="1.85"/>
<path d="M796.8,229.3 H823.4 Q829,229.6 829,235.2 V355.8 Q829,362 822.8,362 H809.5" fill="none" stroke="#000" stroke-width="1.9"/>
<path d="M797.6,232.5 H822 Q825.6,232.7 825.6,236.3 V354.6 Q825.4,358.2 822,358.2 H810" fill="none" stroke="#000" stroke-width="1"/>
<line x1="825.8" y1="236.3" x2="829" y2="236.3" stroke="#000" stroke-width="0.8"/>
<line x1="822.3" y1="358.2" x2="822.3" y2="362" stroke="#000" stroke-width="0.9"/>
<path d="M797.4,252.5 H807.3 Q809.4,252.5 809.4,254.7 V361.2 Q809.4,363.3 807.2,363.3 H797.6" fill="none" stroke="#000" stroke-width="1.05"/>
<path d="M812.6,357.2 V253.6 Q812.6,251.6 814.6,251.6 H821.6 Q823.6,251.6 823.6,253.6 V357.2 Z" fill="none" stroke="#000" stroke-width="1.05"/>
<line x1="812.6" y1="357" x2="823.6" y2="357" stroke="#000" stroke-width="1.5"/>
<rect x="797.5" y="264.9" width="10.7" height="34.6" rx="5.3" fill="#fff" stroke="#000" stroke-width="0.7"/>
<rect x="798.6" y="266.1" width="8.4" height="32.2" rx="4.2" fill="#fff" stroke="#000" stroke-width="0.8"/>
<line x1="798.6" y1="271.5" x2="798.6" y2="292.8" stroke="#000" stroke-width="2.8"/>
<line x1="806.5" y1="272.5" x2="806.5" y2="291.8" stroke="#000" stroke-width="1"/>
<circle cx="802.8" cy="270.2" r="3" fill="#fff" stroke="#000" stroke-width="1.4"/><path d="M801.2,270.2 h3.2 M802.8,268.59999999999997 v3.2" stroke="#000" stroke-width="0.8"/>
<circle cx="802.8" cy="294" r="3" fill="#fff" stroke="#000" stroke-width="1.4"/><path d="M801.2,294 h3.2 M802.8,292.4 v3.2" stroke="#000" stroke-width="0.8"/>
<rect x="797.4" y="326.6" width="3.3" height="5.2" fill="#fff" stroke="#000" stroke-width="0.9"/>
<rect x="797.4" y="336.2" width="3.3" height="5.2" fill="#fff" stroke="#000" stroke-width="0.9"/>
<rect x="797.4" y="345.9" width="3.3" height="5.2" fill="#fff" stroke="#000" stroke-width="0.9"/>
<rect x="797.4" y="355.6" width="3.3" height="5.2" fill="#fff" stroke="#000" stroke-width="0.9"/>
<path d="M797.4,367.8 H808 Q810.4,367.8 810.4,370.2 V375.4 Q810.4,377.8 808,377.8 H797.4" fill="none" stroke="#000" stroke-width="1.5"/>
<circle cx="802.8" cy="373.3" r="2.5" fill="#000"/>
<path d="M802.8,379.2 L804.9,382 H800.7 Z" fill="#000"/>
<circle cx="841.7" cy="248.4" r="1.5" fill="#fff" stroke="#000" stroke-width="1.3"/>
<rect x="835.2" y="265.1" width="8.8" height="3.6" fill="#000"/><rect x="850.2" y="265.1" width="8.8" height="3.6" fill="#000"/>
<line x1="676.5" y1="393.8" x2="676.5" y2="405" stroke="#000" stroke-width="1.1"/>
<line x1="660" y1="404.2" x2="677" y2="404.2" stroke="#000" stroke-width="3"/>
<path d="M676.5,404.6 Q676.8,406.5 678.6,406.5 H787.4" fill="none" stroke="#000" stroke-width="1.5"/>
<line x1="786.3" y1="393.8" x2="786.3" y2="404" stroke="#000" stroke-width="1.1"/>
<rect x="680.3" y="394.4" width="37.4" height="6.7" rx="3.3" fill="none" stroke="#000" stroke-width="1.5"/>
<rect x="742.2" y="394.4" width="37.4" height="6.7" rx="3.3" fill="none" stroke="#000" stroke-width="1.5"/>
<rect x="704" y="393" width="82.5" height="2.5" fill="#000"/>
<rect x="709.5" y="394.4" width="14" height="0.6" fill="#bbb"/>
<rect x="727.6" y="394.2" width="1.1" height="1.1" fill="#fff"/>
<rect x="734.3" y="394.2" width="1.1" height="1.1" fill="#fff"/>
<rect x="752" y="394.2" width="1.1" height="1.1" fill="#fff"/>
<rect x="759" y="394.2" width="4.9" height="2.3" fill="#fff" stroke="#000" stroke-width="0.9"/>
<rect x="768.7" y="394.2" width="5.5" height="2.3" fill="#fff" stroke="#000" stroke-width="0.9"/>
<rect x="779" y="394.2" width="4.3" height="2.3" fill="#fff" stroke="#000" stroke-width="0.9"/>
<rect x="674.3" y="407.8" width="113.2" height="13.6" rx="1" fill="none" stroke="#000" stroke-width="1.1"/>
<path d="M785.4,404.3 H791 Q794.1,404.3 794.1,407.4 V431.4 Q794.1,434.4 791.2,434.4" fill="none" stroke="#000" stroke-width="1.9"/>
<path d="M788.2,405.2 L790.7,407.4 V430.8 L788.8,432.8" fill="none" stroke="#000" stroke-width="1.4"/>
<path d="M790.7,430.6 L792.6,432.6 L790.9,434.2" fill="none" stroke="#000" stroke-width="0.8"/>
<path d="M663.4,439.4 V432.5 H789.6" fill="none" stroke="#000" stroke-width="1.1"/>
<line x1="790" y1="434.5" x2="828.6" y2="434.5" stroke="#000" stroke-width="1.4"/>
<path d="M815.8,440 Q822,439.4 827.9,434.8" fill="none" stroke="#000" stroke-width="1"/>
<line x1="815.5" y1="440" x2="815.5" y2="511" stroke="#000" stroke-width="1.2"/>
<line x1="828.5" y1="434" x2="828.5" y2="511" stroke="#000" stroke-width="1.2"/>
<circle cx="693.5" cy="447.5" r="1.7" fill="#fff" stroke="#000" stroke-width="1.5"/>
<circle cx="309.5" cy="447.5" r="1.7" fill="#fff" stroke="#000" stroke-width="1.5"/>
<rect x="194" y="480.85" width="91" height="25.25" rx="5" fill="#000"/><rect x="197.9" y="485" width="83.5" height="17.1" rx="1.6" fill="#fff"/>
<circle cx="216.4" cy="493.7" r="2.05" fill="#fff" stroke="#000" stroke-width="1.8"/>
<circle cx="223.5" cy="493.7" r="2.05" fill="#fff" stroke="#000" stroke-width="1.8"/>
<circle cx="230.5" cy="493.7" r="2.05" fill="#fff" stroke="#000" stroke-width="1.8"/>
<circle cx="237.5" cy="493.7" r="2.05" fill="#fff" stroke="#000" stroke-width="1.8"/>
<circle cx="244.4" cy="493.7" r="2.05" fill="#fff" stroke="#000" stroke-width="1.8"/>
<circle cx="251.3" cy="493.7" r="2.05" fill="#fff" stroke="#000" stroke-width="1.8"/>
<circle cx="258.2" cy="493.7" r="2.05" fill="#fff" stroke="#000" stroke-width="1.8"/>
<circle cx="265.1" cy="493.7" r="2.05" fill="#fff" stroke="#000" stroke-width="1.8"/>
<circle cx="275.4" cy="493.4" r="4.2" fill="#000"/><circle cx="275.4" cy="493.4" r="2.6" fill="#1c1c1c"/>
<line x1="288" y1="495.2" x2="288" y2="502.8" stroke="#000" stroke-width="1.8"/><circle cx="292.3" cy="501.3" r="1.65" fill="#fff" stroke="#000" stroke-width="1.5"/>
<line x1="331.5" y1="495.2" x2="331.5" y2="502.8" stroke="#000" stroke-width="2.6"/><circle cx="327" cy="501.3" r="1.65" fill="#fff" stroke="#000" stroke-width="1.5"/>
<line x1="671.8" y1="495.2" x2="671.8" y2="502.8" stroke="#000" stroke-width="1.8"/><circle cx="675.9" cy="501.3" r="1.65" fill="#fff" stroke="#000" stroke-width="1.5"/>
<line x1="715.4" y1="495.2" x2="715.4" y2="502.8" stroke="#000" stroke-width="2.6"/><circle cx="710.8" cy="501.3" r="1.65" fill="#fff" stroke="#000" stroke-width="1.5"/>
<circle cx="309.5" cy="489.4" r="2.05" fill="#fff" stroke="#000" stroke-width="1.7"/><circle cx="309.5" cy="497.5" r="4.4" fill="#3c3c3c"/><circle cx="309.5" cy="497.5" r="3" fill="#000"/><path d="M309.5,503.3 L311.5,506.5 H307.5 Z" fill="#fff" stroke="#000" stroke-width="0.8" stroke-linejoin="miter"/><line x1="307.3" y1="506.5" x2="311.7" y2="506.5" stroke="#000" stroke-width="1.1"/>
<circle cx="693.5" cy="489.4" r="2.05" fill="#fff" stroke="#000" stroke-width="1.7"/><circle cx="693.5" cy="497.5" r="4.4" fill="#3c3c3c"/><circle cx="693.5" cy="497.5" r="3" fill="#000"/><path d="M693.5,503.3 L695.5,506.5 H691.5 Z" fill="#fff" stroke="#000" stroke-width="0.8" stroke-linejoin="miter"/><line x1="691.3" y1="506.5" x2="695.7" y2="506.5" stroke="#000" stroke-width="1.1"/>
<circle cx="432.3" cy="479.3" r="5.6" fill="#000"/><circle cx="432.3" cy="479.3" r="3.5" fill="none" stroke="#3c3c3c" stroke-width="1.5"/><path d="M432.3,486.2 L434.3,489.4 H430.3 Z" fill="#fff" stroke="#000" stroke-width="0.8" stroke-linejoin="miter"/><line x1="430.1" y1="489.4" x2="434.5" y2="489.4" stroke="#000" stroke-width="1.1"/>
<circle cx="570.8" cy="479.4" r="5.6" fill="#000"/><circle cx="570.8" cy="479.4" r="3.5" fill="none" stroke="#3c3c3c" stroke-width="1.5"/><path d="M570.8,486.29999999999995 L572.8,489.49999999999994 H568.8 Z" fill="#fff" stroke="#000" stroke-width="0.8" stroke-linejoin="miter"/><line x1="568.5999999999999" y1="489.49999999999994" x2="573.0" y2="489.49999999999994" stroke="#000" stroke-width="1.1"/>
<circle cx="169.1" cy="479.4" r="4.6" fill="#000"/><circle cx="169.1" cy="479.4" r="2.9" fill="none" stroke="#b0b0b0" stroke-width="0.7"/><path d="M169.1,485.29999999999995 L170.9,488.4 H167.29999999999998 Z" fill="#fff" stroke="#000" stroke-width="0.8" stroke-linejoin="miter"/><line x1="167.1" y1="488.4" x2="171.1" y2="488.4" stroke="#000" stroke-width="1.1"/>
<circle cx="834" cy="479.4" r="4.6" fill="#000"/><circle cx="834" cy="479.4" r="2.9" fill="none" stroke="#b0b0b0" stroke-width="0.7"/><path d="M834,485.29999999999995 L835.8,488.4 H832.2 Z" fill="#fff" stroke="#000" stroke-width="0.8" stroke-linejoin="miter"/><line x1="832.0" y1="488.4" x2="836.0" y2="488.4" stroke="#000" stroke-width="1.1"/>
<rect x="351.9" y="480.7" width="36.10000000000002" height="20.2" fill="#000"/><rect x="351.9" y="490.6" width="36.10000000000002" height="1.3" fill="#d0d0d0"/><rect x="356.9" y="481.5" width="1" height="8.6" fill="#fff"/><rect x="356.9" y="492.6" width="1" height="7.4" fill="#fff"/><rect x="360.1" y="481.5" width="0.8" height="8.6" fill="#fff"/><rect x="360.1" y="492.6" width="0.8" height="7.4" fill="#fff"/><rect x="364.2" y="481.5" width="0.6" height="8.6" fill="#fff"/><rect x="364.2" y="492.6" width="0.6" height="7.4" fill="#fff"/><rect x="367.90000000000003" y="481.5" width="0.8" height="8.6" fill="#fff"/><rect x="367.90000000000003" y="492.6" width="0.8" height="7.4" fill="#fff"/><rect x="371.0" y="481.5" width="0.8" height="8.6" fill="#fff"/><rect x="371.0" y="492.6" width="0.8" height="7.4" fill="#fff"/><rect x="375.05" y="481.5" width="0.5" height="8.6" fill="#fff"/><rect x="375.05" y="492.6" width="0.5" height="7.4" fill="#fff"/><rect x="378.05" y="481.5" width="0.5" height="8.6" fill="#fff"/><rect x="378.05" y="492.6" width="0.5" height="7.4" fill="#fff"/><rect x="382.1" y="481.5" width="1" height="8.6" fill="#fff"/><rect x="382.1" y="492.6" width="1" height="7.4" fill="#fff"/>
<rect x="756" y="480.7" width="36" height="20.2" fill="#000"/><rect x="756" y="490.6" width="36" height="1.3" fill="#d0d0d0"/><rect x="758.05" y="481.5" width="0.9" height="8.6" fill="#fff"/><rect x="758.05" y="492.6" width="0.9" height="7.4" fill="#fff"/><rect x="762.25" y="481.5" width="0.5" height="8.6" fill="#fff"/><rect x="762.25" y="492.6" width="0.5" height="7.4" fill="#fff"/><rect x="765.25" y="481.5" width="0.5" height="8.6" fill="#fff"/><rect x="765.25" y="492.6" width="0.5" height="7.4" fill="#fff"/><rect x="768.9499999999999" y="481.5" width="0.9" height="8.6" fill="#fff"/><rect x="768.9499999999999" y="492.6" width="0.9" height="7.4" fill="#fff"/><rect x="772.05" y="481.5" width="0.9" height="8.6" fill="#fff"/><rect x="772.05" y="492.6" width="0.9" height="7.4" fill="#fff"/><rect x="776.15" y="481.5" width="0.5" height="8.6" fill="#fff"/><rect x="776.15" y="492.6" width="0.5" height="7.4" fill="#fff"/><rect x="780.05" y="481.5" width="0.9" height="8.6" fill="#fff"/><rect x="780.05" y="492.6" width="0.9" height="7.4" fill="#fff"/><rect x="783.15" y="481.5" width="0.9" height="8.6" fill="#fff"/><rect x="783.15" y="492.6" width="0.9" height="7.4" fill="#fff"/><rect x="787.1999999999999" y="481.5" width="0.4" height="8.6" fill="#fff"/><rect x="787.1999999999999" y="492.6" width="0.4" height="7.4" fill="#fff"/>
<path d="M859.5,496.2 V493.7 L860.45,492.9 L861.4,493.7 V496.2 Z" fill="#fff" stroke="#000" stroke-width="1.2" stroke-linejoin="round"/>
<rect x="862.9" y="493.35" width="4.7" height="2.2" rx="1.1" fill="#fff" stroke="#000" stroke-width="1"/>
<rect x="75" y="456.7" width="15.2" height="32.1" rx="2.4" fill="#fff" stroke="#000" stroke-width="1.5"/>
<rect x="79.6" y="469.5" width="7" height="7" rx="1.6" fill="#fff" stroke="#000" stroke-width="1.3"/><line x1="83.4" y1="469.5" x2="83.4" y2="476.5" stroke="#000" stroke-width="1"/>
<circle cx="87.9" cy="27.4" r="3.8" fill="#000"/><path d="M87.9,33.199999999999996 L89.85000000000001,36.49999999999999 H85.95 Z" fill="#fff" stroke="#000" stroke-width="0.8" stroke-linejoin="miter"/><line x1="85.75" y1="36.49999999999999" x2="90.05000000000001" y2="36.49999999999999" stroke="#000" stroke-width="1.1"/>
<circle cx="224.6" cy="27.4" r="3.8" fill="#000"/><path d="M224.6,33.199999999999996 L226.54999999999998,36.49999999999999 H222.65 Z" fill="#fff" stroke="#000" stroke-width="0.8" stroke-linejoin="miter"/><line x1="222.45000000000002" y1="36.49999999999999" x2="226.74999999999997" y2="36.49999999999999" stroke="#000" stroke-width="1.1"/>
<circle cx="363" cy="27.4" r="3.8" fill="#000"/><path d="M363,33.199999999999996 L364.95,36.49999999999999 H361.05 Z" fill="#fff" stroke="#000" stroke-width="0.8" stroke-linejoin="miter"/><line x1="360.85" y1="36.49999999999999" x2="365.15" y2="36.49999999999999" stroke="#000" stroke-width="1.1"/>
<circle cx="501.5" cy="27.4" r="3.8" fill="#000"/><path d="M501.5,33.199999999999996 L503.45,36.49999999999999 H499.55 Z" fill="#fff" stroke="#000" stroke-width="0.8" stroke-linejoin="miter"/><line x1="499.35" y1="36.49999999999999" x2="503.65" y2="36.49999999999999" stroke="#000" stroke-width="1.1"/>
<circle cx="640" cy="27.4" r="3.8" fill="#000"/><path d="M640,33.199999999999996 L641.95,36.49999999999999 H638.05 Z" fill="#fff" stroke="#000" stroke-width="0.8" stroke-linejoin="miter"/><line x1="637.8499999999999" y1="36.49999999999999" x2="642.1500000000001" y2="36.49999999999999" stroke="#000" stroke-width="1.1"/>
<circle cx="778.5" cy="27.4" r="3.8" fill="#000"/><path d="M778.5,33.199999999999996 L780.45,36.49999999999999 H776.55 Z" fill="#fff" stroke="#000" stroke-width="0.8" stroke-linejoin="miter"/><line x1="776.3499999999999" y1="36.49999999999999" x2="780.6500000000001" y2="36.49999999999999" stroke="#000" stroke-width="1.1"/>
<circle cx="915.2" cy="27.4" r="3.8" fill="#000"/><path d="M915.2,33.199999999999996 L917.1500000000001,36.49999999999999 H913.25 Z" fill="#fff" stroke="#000" stroke-width="0.8" stroke-linejoin="miter"/><line x1="913.05" y1="36.49999999999999" x2="917.3500000000001" y2="36.49999999999999" stroke="#000" stroke-width="1.1"/>
<path d="M79.1,153.9 L81.05,157.20000000000002 H77.14999999999999 Z" fill="#fff" stroke="#000" stroke-width="0.8" stroke-linejoin="miter"/><line x1="76.94999999999999" y1="157.20000000000002" x2="81.25" y2="157.20000000000002" stroke="#000" stroke-width="1.1"/>
<path d="M924.0,153.9 L925.95,157.20000000000002 H922.05 Z" fill="#fff" stroke="#000" stroke-width="0.8" stroke-linejoin="miter"/><line x1="921.8499999999999" y1="157.20000000000002" x2="926.1500000000001" y2="157.20000000000002" stroke="#000" stroke-width="1.1"/>
<line x1="81.5" y1="152.3" x2="81.5" y2="158.3" stroke="#000" stroke-width="1"/><line x1="921.5" y1="152.3" x2="921.5" y2="158.3" stroke="#000" stroke-width="1"/>
<circle cx="79.9" cy="148.3" r="3.75" fill="#000"/>
<circle cx="923.3" cy="148.3" r="3.75" fill="#000"/>
<path d="M79.1,271.40000000000003 L81.05,274.70000000000005 H77.14999999999999 Z" fill="#fff" stroke="#000" stroke-width="0.8" stroke-linejoin="miter"/><line x1="76.94999999999999" y1="274.70000000000005" x2="81.25" y2="274.70000000000005" stroke="#000" stroke-width="1.1"/>
<path d="M924.0,271.40000000000003 L925.95,274.70000000000005 H922.05 Z" fill="#fff" stroke="#000" stroke-width="0.8" stroke-linejoin="miter"/><line x1="921.8499999999999" y1="274.70000000000005" x2="926.1500000000001" y2="274.70000000000005" stroke="#000" stroke-width="1.1"/>
<line x1="81.5" y1="269.8" x2="81.5" y2="275.8" stroke="#000" stroke-width="1"/><line x1="921.5" y1="269.8" x2="921.5" y2="275.8" stroke="#000" stroke-width="1"/>
<circle cx="79.9" cy="265.8" r="3.75" fill="#000"/>
<circle cx="923.3" cy="265.8" r="3.75" fill="#000"/>
<path d="M79.1,389.40000000000003 L81.05,392.70000000000005 H77.14999999999999 Z" fill="#fff" stroke="#000" stroke-width="0.8" stroke-linejoin="miter"/><line x1="76.94999999999999" y1="392.70000000000005" x2="81.25" y2="392.70000000000005" stroke="#000" stroke-width="1.1"/>
<path d="M924.0,389.40000000000003 L925.95,392.70000000000005 H922.05 Z" fill="#fff" stroke="#000" stroke-width="0.8" stroke-linejoin="miter"/><line x1="921.8499999999999" y1="392.70000000000005" x2="926.1500000000001" y2="392.70000000000005" stroke="#000" stroke-width="1.1"/>
<line x1="81.5" y1="387.8" x2="81.5" y2="393.8" stroke="#000" stroke-width="1"/><line x1="921.5" y1="387.8" x2="921.5" y2="393.8" stroke="#000" stroke-width="1"/>
<circle cx="79.9" cy="383.8" r="3.75" fill="#000"/>
<circle cx="923.3" cy="383.8" r="3.75" fill="#000"/>
<circle cx="79.8" cy="498.6" r="3.7" fill="#000"/><path d="M79.8,504.40000000000003 L81.75,507.70000000000005 H77.85 Z" fill="#fff" stroke="#000" stroke-width="0.8" stroke-linejoin="miter"/><line x1="77.64999999999999" y1="507.70000000000005" x2="81.95" y2="507.70000000000005" stroke="#000" stroke-width="1.1"/>
<circle cx="923.3" cy="498.7" r="3.7" fill="#000"/><path d="M923.3,504.5 L925.25,507.8 H921.3499999999999 Z" fill="#fff" stroke="#000" stroke-width="0.8" stroke-linejoin="miter"/><line x1="921.1499999999999" y1="507.8" x2="925.45" y2="507.8" stroke="#000" stroke-width="1.1"/>
<rect x="22.5" y="425.5" width="122" height="113" fill="none" stroke="#ED1C24" stroke-width="5"/>
</svg>
</body></html>
